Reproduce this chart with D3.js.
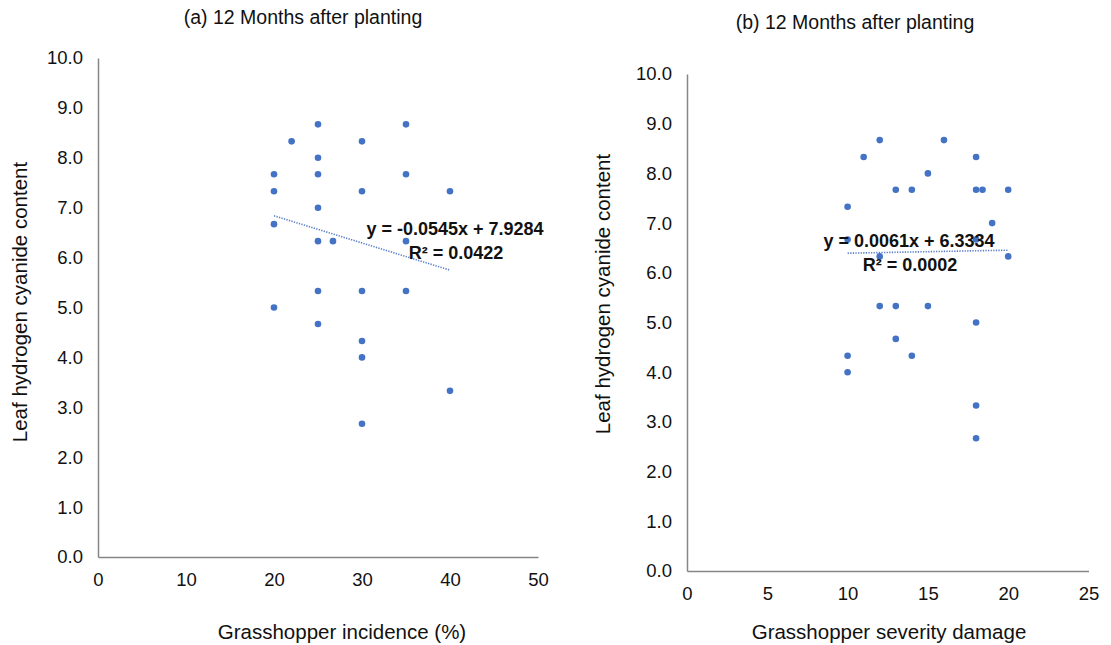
<!DOCTYPE html>
<html>
<head>
<meta charset="utf-8">
<script src="https://cdn.jsdelivr.net/npm/d3@7"></script>
<style>
  body { margin: 0; background: #fff; }
  svg { display: block; font-family: "Liberation Sans", Arial, sans-serif; }
</style>
</head>
<body>
<div id="chart"></div>
<script>
// Panel (a): incidence vs HCN
const incidence = [20, 20, 20, 20, 22, 25, 25, 25, 25, 25, 25, 25, 26.7, 30, 30, 30, 30, 30, 30, 35, 35, 35, 35, 40, 40];
const hcnA = [7.67, 7.33, 6.67, 5.0, 8.33, 8.67, 8.0, 7.67, 7.0, 6.33, 5.33, 4.67, 6.33, 8.33, 7.33, 5.33, 4.33, 4.0, 2.67, 8.67, 7.67, 6.33, 5.33, 7.33, 3.33];

// Panel (b): severity vs HCN
const severity = [12, 16, 11, 18, 15, 13, 14, 18, 18.4, 20, 10, 19, 10, 18, 20, 12, 12, 13, 15, 18, 13, 10, 14, 10, 18, 18];
const hcnB = [8.67, 8.67, 8.33, 8.33, 8.0, 7.67, 7.67, 7.67, 7.67, 7.67, 7.33, 7.0, 6.67, 6.67, 6.33, 6.33, 5.33, 5.33, 5.33, 5.0, 4.67, 4.33, 4.33, 4.0, 3.33, 2.67];

// trendline: [slope, intercept, r2, xFrom, xTo]
const trendA = [-0.0545, 7.9284, 0.0422, 20, 40];
const trendB = [0.0061, 6.3334, 0.0002, 10, 20];

const xTicksA = [0, 10, 20, 30, 40, 50];
const xTicksB = [0, 5, 10, 15, 20, 25];
const yTicks = [0, 1, 2, 3, 4, 5, 6, 7, 8, 9, 10];

const blue = "#4472C4";

const svg = d3.select("#chart").append("svg")
    .attr("width", 1111)
    .attr("height", 645);

function panel(opt) {
  const x = d3.scaleLinear().domain(opt.xDomain).range(opt.xRange);
  const y = d3.scaleLinear().domain([0, 10]).range(opt.yRange);
  const g = svg.append("g");

  // axes
  const yAxis = g.append("g")
      .attr("transform", `translate(${opt.xRange[0]},0)`)
      .call(d3.axisLeft(y).tickValues(yTicks).tickFormat(d3.format(".1f")).tickSize(0).tickPadding(15));
  const xAxis = g.append("g")
      .attr("transform", `translate(0,${opt.yRange[0]})`)
      .call(d3.axisBottom(x).tickValues(opt.xTicks).tickFormat(d3.format("d")).tickSize(0).tickPadding(16));
  [xAxis, yAxis].forEach(a => {
    a.select(".domain").attr("stroke", "#868686").attr("stroke-width", 1.5);
    a.selectAll("text").attr("font-size", 18.5).attr("fill", "#111")
      .attr("font-family", "'Liberation Sans', Arial, sans-serif");
  });

  // points
  g.selectAll("circle")
      .data(opt.xs.map((d, i) => [d, opt.ys[i]]))
    .enter().append("circle")
      .attr("cx", d => x(d[0]))
      .attr("cy", d => y(d[1]))
      .attr("r", 3.3)
      .attr("fill", blue);

  // trendline
  const [m, b, r2, x0, x1] = opt.trend;
  g.append("line")
      .attr("x1", x(x0)).attr("y1", y(m * x0 + b))
      .attr("x2", x(x1)).attr("y2", y(m * x1 + b))
      .attr("stroke", "#5a7fc8")
      .attr("stroke-width", 1.6)
      .attr("stroke-dasharray", "1.3,1.3");

  const sign = m < 0 ? "-" : "";
  const eq = g.append("text")
      .attr("text-anchor", "middle")
      .attr("font-size", 18)
      .attr("font-weight", "bold")
      .attr("fill", "#111");
  eq.append("tspan").attr("x", opt.eqPos[0]).attr("y", opt.eqPos[1])
      .text(`y = ${sign}${Math.abs(m).toFixed(4)}x + ${b.toFixed(4)}`);
  eq.append("tspan").attr("x", opt.eqPos[0] + 1).attr("y", opt.eqPos[1] + 24)
      .text(`R² = ${r2.toFixed(4)}`);

  // titles
  g.append("text")
      .attr("x", opt.titlePos[0]).attr("y", opt.titlePos[1])
      .attr("text-anchor", "middle")
      .attr("font-size", 19.5)
      .attr("fill", "#111")
      .text(opt.title);
  g.append("text")
      .attr("x", opt.xTitlePos[0]).attr("y", opt.xTitlePos[1])
      .attr("text-anchor", "middle")
      .attr("font-size", 20.5)
      .attr("fill", "#111")
      .text(opt.xTitle);
  g.append("text")
      .attr("transform", `translate(${opt.yTitlePos[0]},${opt.yTitlePos[1]}) rotate(-90)`)
      .attr("text-anchor", "middle")
      .attr("font-size", 20.5)
      .attr("fill", "#111")
      .text("Leaf hydrogen cyanide content");
}

panel({
  xs: incidence, ys: hcnA, trend: trendA,
  xDomain: [0, 50], xTicks: xTicksA,
  xRange: [98, 538], yRange: [557, 58],
  eqPos: [455, 235],
  title: "(a) 12 Months after planting", titlePos: [303, 24],
  xTitle: "Grasshopper incidence (%)", xTitlePos: [342, 639],
  yTitlePos: [27, 302]
});

panel({
  xs: severity, ys: hcnB, trend: trendB,
  xDomain: [0, 25], xTicks: xTicksB,
  xRange: [687, 1088.5], yRange: [571, 74],
  eqPos: [909, 247],
  title: "(b) 12 Months after planting", titlePos: [855, 29],
  xTitle: "Grasshopper severity damage", xTitlePos: [889, 639],
  yTitlePos: [610, 294]
});
</script>
</body>
</html>
